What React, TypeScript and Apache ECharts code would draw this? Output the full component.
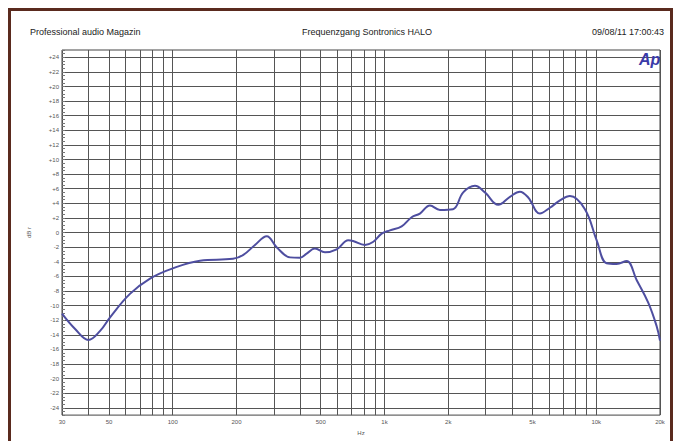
import React, { useEffect, useRef } from "react";
import * as echarts from "echarts";

const freqs = [30, 34.6, 40, 45.3, 50.6, 62.8, 78.1, 100, 134.5, 192.5, 214.6, 244.6, 278, 309.5, 357.8, 398.8, 429, 469.5, 523.5, 594.6, 674.5, 709.8, 808.8, 882, 969.6, 1061, 1205, 1343, 1470, 1640, 1828, 2106, 2354, 2674, 2981, 3444, 3912, 4360, 4772, 5419, 6042, 6738, 7510, 8841, 10038, 11193, 12478, 13911, 15510, 17595, 19272, 20000];
const levels = [-11.1, -13.2, -14.7, -13.5, -11.6, -8.4, -6.3, -4.9, -3.85, -3.6, -3.1, -1.7, -0.5, -2.0, -3.4, -3.45, -2.9, -2.2, -2.7, -2.3, -1.05, -1.15, -1.7, -1.3, -0.15, 0.3, 0.85, 2.1, 2.6, 3.7, 3.1, 3.2, 5.5, 6.4, 5.5, 3.8, 4.9, 5.6, 4.8, 2.6, 3.4, 4.4, 5.0, 3.2, -1.05, -4.2, -4.3, -3.9, -6.5, -9.6, -12.8, -14.8];

const xGridValues = [30, 40, 50, 60, 70, 80, 90, 100, 200, 300, 400, 500, 600, 700, 800, 900, 1000, 2000, 3000, 4000, 5000, 6000, 7000, 8000, 9000, 10000, 20000];
const xLabelValues = [30, 50, 100, 200, 500, 1000, 2000, 5000, 10000, 20000];
const yLabelValues = [-24, -22, -20, -18, -16, -14, -12, -10, -8, -6, -4, -2, 0, 2, 4, 6, 8, 10, 12, 14, 16, 18, 20, 22, 24];

const headerLeft = "Professional audio Magazin";
const headerCenter = "Frequenzgang Sontronics HALO";
const headerRight = "09/08/11 17:00:43";

export default function App() {
  const ref = useRef<HTMLDivElement>(null);
  useEffect(() => {
    if (!ref.current) return;
    const chart = echarts.init(ref.current, null, { renderer: "svg" });
    const font = "'Liberation Sans', Arial, sans-serif";
    chart.setOption({
      animation: false,
      backgroundColor: "#ffffff",
      textStyle: { fontFamily: font },
      title: [
        { text: headerLeft, left: 25, top: 22, textStyle: { fontSize: 9, fontWeight: "normal", color: "#222", fontFamily: font } },
        { text: headerCenter, left: 297, top: 22, textStyle: { fontSize: 9, fontWeight: "normal", color: "#222", fontFamily: font } },
        { text: headerRight, right: 6, top: 22, textStyle: { fontSize: 9, fontWeight: "normal", color: "#222", fontFamily: font } },
      ],
      graphic: [
        { type: "rect", shape: { x: 9.5, y: 9.5, width: 662, height: 440 }, style: { fill: "none", stroke: "#5a2a1e", lineWidth: 3 }, z: 100 },
        { type: "text", x: 639, y: 51, style: { text: "Ap", font: "italic bold 16px 'Liberation Sans', Arial, sans-serif", fill: "#3a3aa8" }, z: 100 },
      ],
      grid: { left: 62, right: 15, top: 50, bottom: 21, show: true, borderColor: "#444", borderWidth: 1, backgroundColor: "transparent" },
      xAxis: {
        type: "log",
        logBase: 10,
        min: 30,
        max: 20000,
        name: "Hz",
        nameLocation: "middle",
        nameGap: 13,
        nameTextStyle: { fontSize: 6, color: "#555" },
        axisLine: { show: false },
        axisTick: { show: false, customValues: xGridValues },
        axisLabel: {
          customValues: xLabelValues,
          fontSize: 6,
          color: "#555",
          margin: 4,
          formatter: (v: number) => (v >= 1000 ? v / 1000 + "k" : String(v)),
        },
        splitLine: { show: true, lineStyle: { color: "#555", width: 1 } },
      },
      yAxis: [
        {
          type: "value",
          min: -25,
          max: 25,
          name: "dB r",
          nameLocation: "middle",
          nameGap: 30,
          nameRotate: 90,
          nameTextStyle: { fontSize: 6, color: "#555" },
          axisLine: { show: false },
          axisTick: { show: false, customValues: yLabelValues },
          axisLabel: {
            customValues: yLabelValues,
            fontSize: 6,
            color: "#555",
            margin: 3,
            formatter: (v: number) => (v > 0 ? "+" + v : String(v)),
          },
          splitLine: { show: true, lineStyle: { color: "#555", width: 1 } },
        },
        {
          type: "value",
          min: -25,
          max: 25,
          interval: 0.5,
          position: "left",
          axisLine: { show: false },
          axisTick: { show: true, inside: true, length: 3, lineStyle: { color: "#777" } },
          axisLabel: { show: false },
          splitLine: { show: false },
        },
      ],
      series: [
        {
          type: "line",
          data: freqs.map((f, i) => [f, levels[i]]),
          smooth: 0.4,
          symbol: "none",
          lineStyle: { color: "#4e4ea0", width: 2 },
          z: 10,
        },
      ],
    });
    return () => chart.dispose();
  }, []);
  return <div ref={ref} style={{ position: "fixed", left: 0, top: 0, width: 675, height: 441 }} />;
}
